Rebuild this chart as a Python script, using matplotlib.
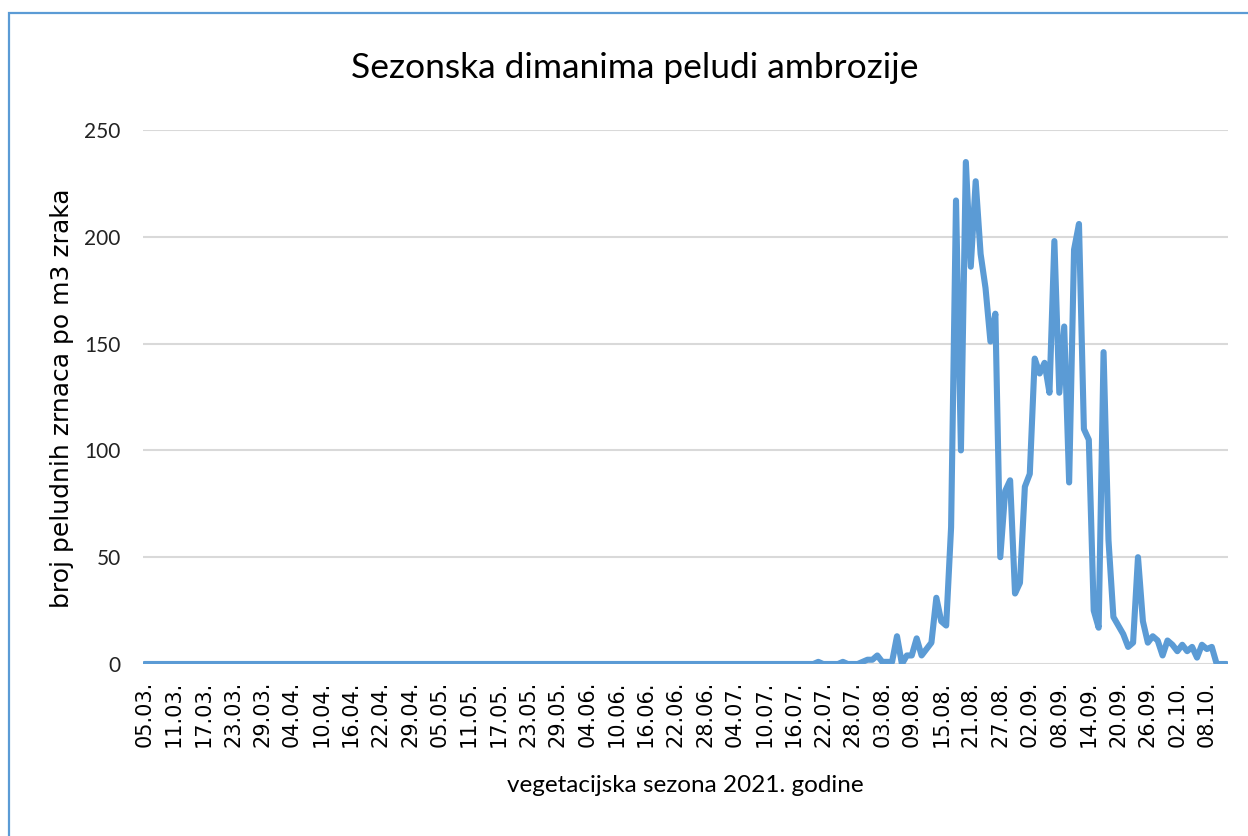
import numpy as np
import matplotlib
matplotlib.use("Agg")
import matplotlib.pyplot as plt
from matplotlib.patches import Rectangle

# tick labels (one every 6 days; 23.04.-28.04. has one day missing in the data)
tick_labels = ["05.03.", "11.03.", "17.03.", "23.03.", "29.03.", "04.04.", "10.04.",
               "16.04.", "22.04.", "29.04.", "05.05.", "11.05.", "17.05.", "23.05.",
               "29.05.", "04.06.", "10.06.", "16.06.", "22.06.", "28.06.", "04.07.",
               "10.07.", "16.07.", "22.07.", "28.07.", "03.08.", "09.08.", "15.08.",
               "21.08.", "27.08.", "02.09.", "08.09.", "14.09.", "20.09.", "26.09.",
               "02.10.", "08.10."]
tick_step = 6

# daily pollen counts; nothing recorded for the first 137 days
zero_days = 137
season_counts = [1, 0, 0, 0, 0, 1, 0, 0, 0, 1, 2, 2, 4, 1, 1, 1, 13, 0, 4, 4,
                 12, 4, 7, 10, 31, 20, 18, 64, 217, 100, 235, 186, 226, 192, 176,
                 151, 164, 50, 81, 86, 33, 38, 83, 89, 143, 136, 141, 127, 198,
                 127, 158, 85, 194, 206, 110, 105, 25, 17, 146, 58, 22, 18, 14, 8,
                 10, 50, 20, 10, 13, 11, 4, 11, 9, 6, 9, 6, 8, 3, 9, 7, 8, 0, 0, 0]
values = [0] * zero_days + season_counts

title = "Sezonska dimanima peludi ambrozije"
xlabel = "vegetacijska sezona 2021. godine"
ylabel = "broj peludnih zrnaca po m3 zraka"

fig = plt.figure(figsize=(12.48, 8.36), dpi=100)
ax = fig.add_axes([143 / 1248, 1 - 664 / 836, (1228 - 143) / 1248, (664 - 130) / 836])

x = np.arange(len(values))
ax.plot(x, values, color="#5B9BD5", linewidth=4.4, solid_joinstyle="round",
        solid_capstyle="round", zorder=3)

ax.set_xlim(-0.3, len(values) - 0.7)
ax.set_ylim(0, 250)
ax.set_yticks([0, 50, 100, 150, 200, 250])
ax.set_xticks(np.arange(len(tick_labels)) * tick_step)
ax.set_xticklabels(tick_labels, rotation=90, fontsize=15, family="DejaVu Sans")
for lbl in ax.get_yticklabels():
    lbl.set_family("Lato")
    lbl.set_fontsize(15)

ax.grid(axis="y", color="#D9D9D9", linewidth=1.5)
ax.set_axisbelow(True)
for s in ax.spines.values():
    s.set_visible(False)
ax.tick_params(axis="x", length=0, pad=12, colors="black")
ax.tick_params(axis="y", length=0, pad=16, colors="#222222")

fig.text(0.509, 0.919, title, ha="center", va="center", fontsize=25.5, family="Lato")
fig.text(0.549, 0.060, xlabel, ha="center", va="center", fontsize=17.5, family="Lato")
fig.text(0.050, 0.524, ylabel, ha="center", va="center", rotation=90,
         fontsize=18, family="DejaVu Sans")

fig.patches.append(Rectangle((9 / 1248, -0.1), 1.2, 1 - 13 / 836 + 0.1,
                             transform=fig.transFigure, fill=False,
                             edgecolor="#5B9BD5", linewidth=1.6))

fig.savefig("out.png", dpi=100)
